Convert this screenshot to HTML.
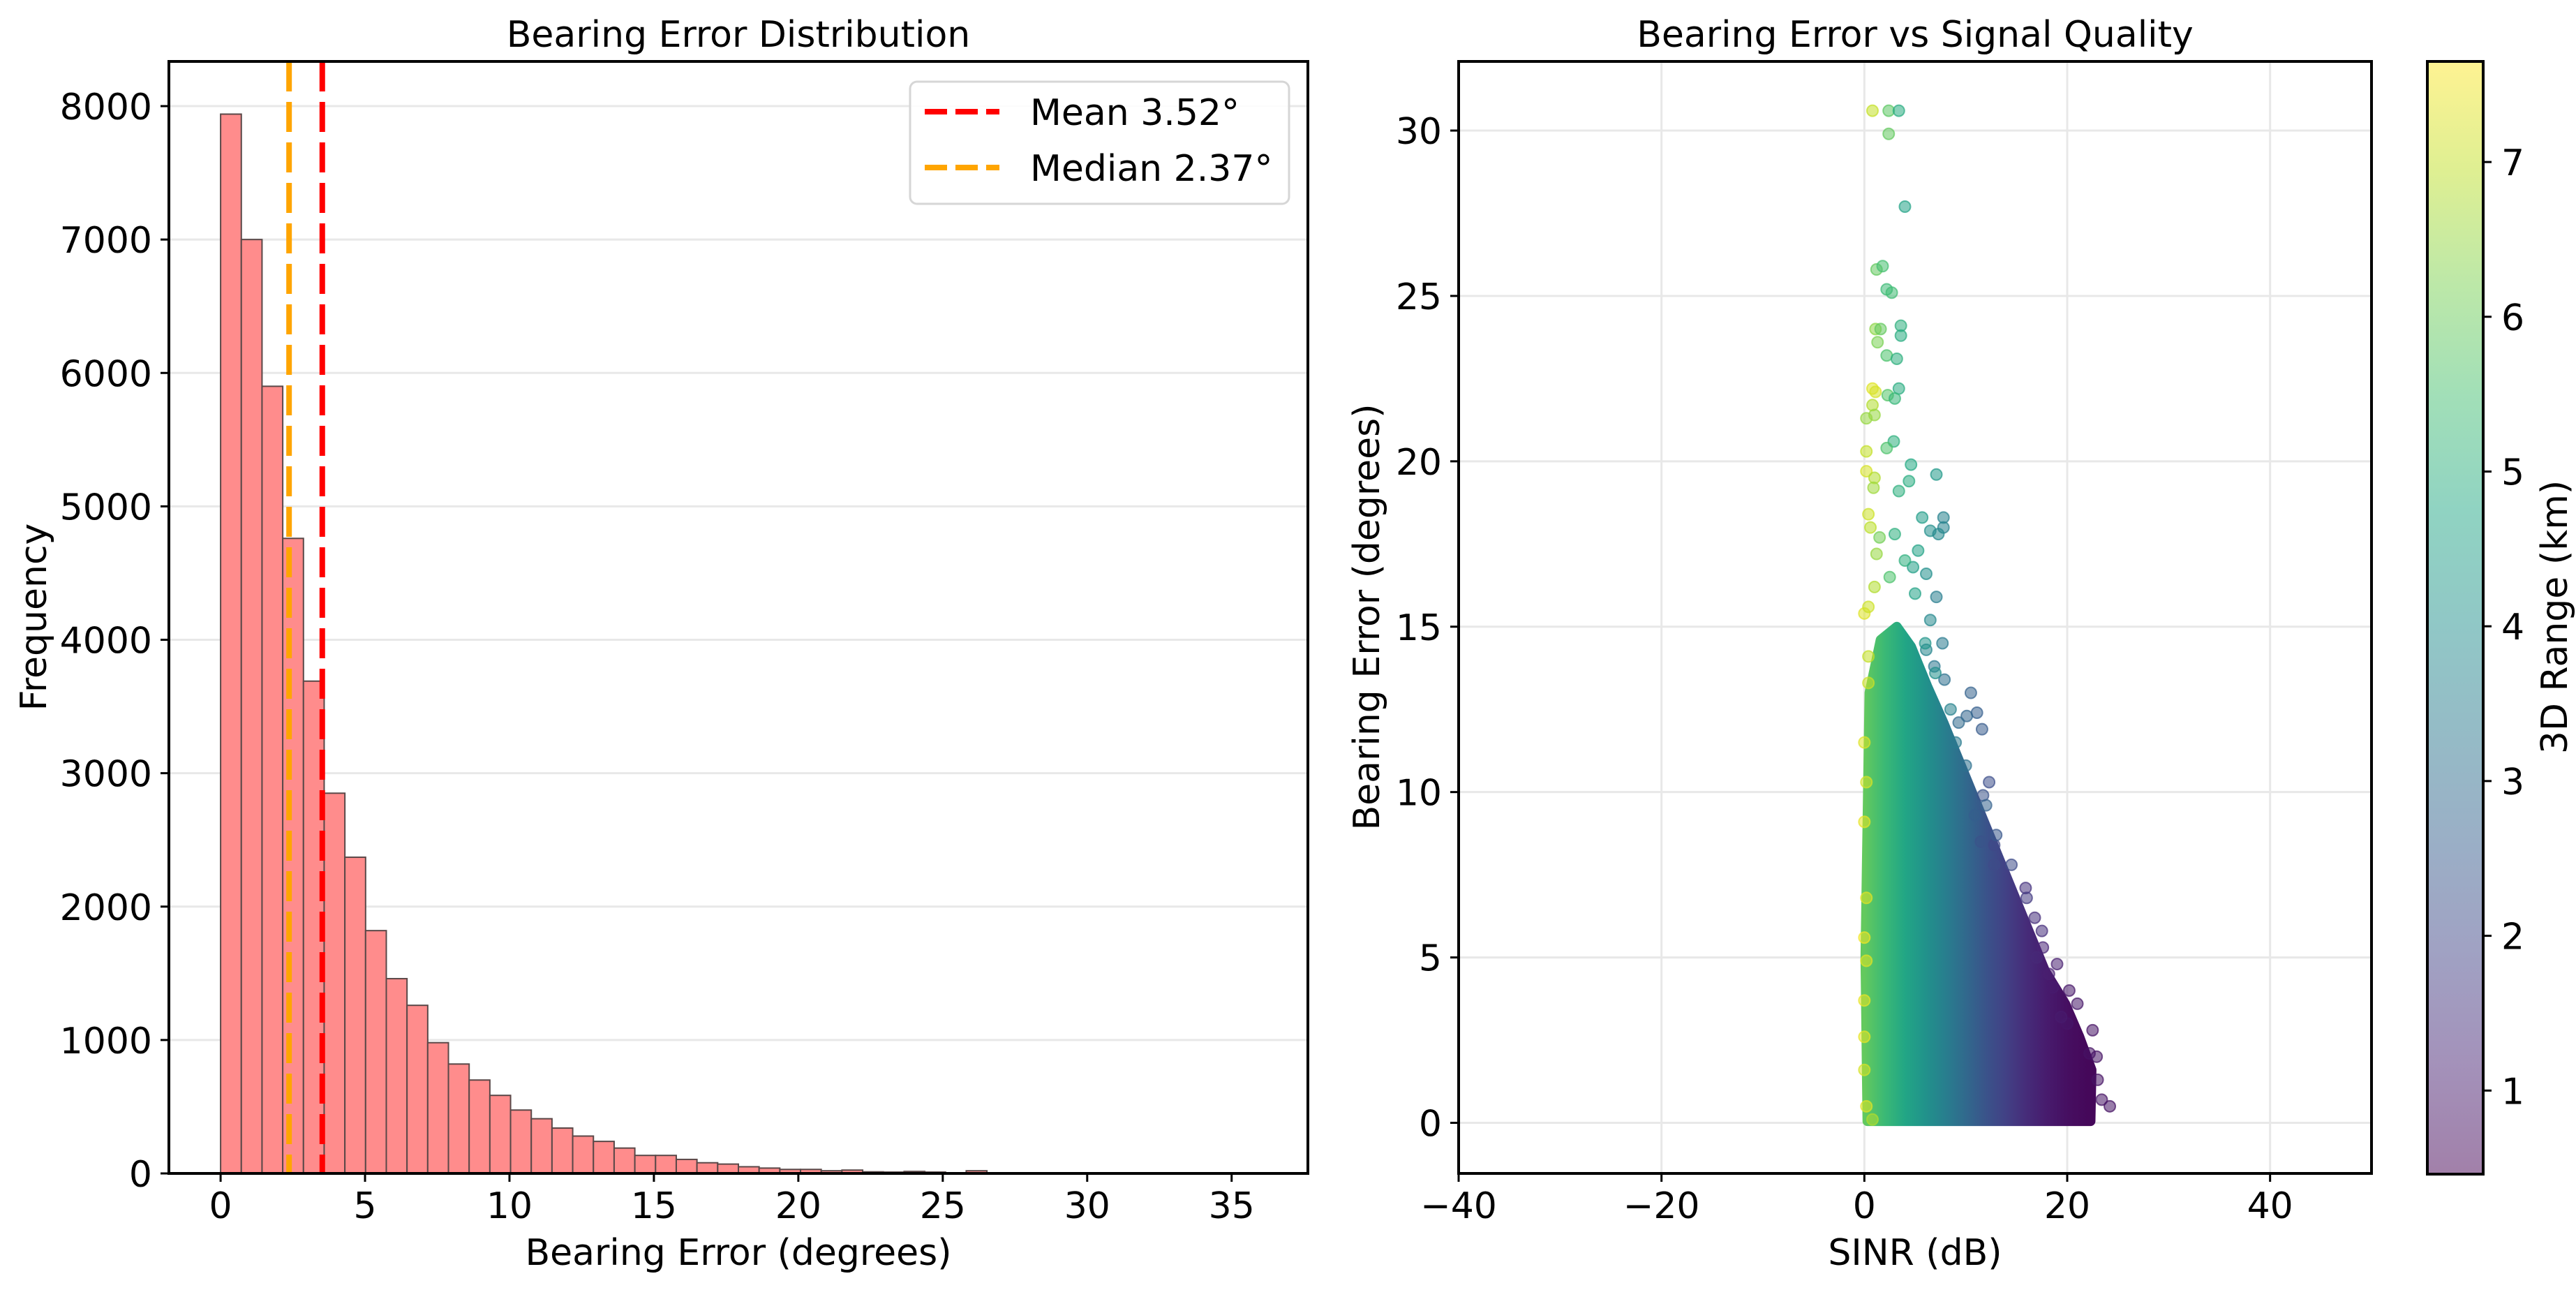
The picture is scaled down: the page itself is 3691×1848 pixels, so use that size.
<!DOCTYPE html>
<html><head><meta charset="utf-8">
<style>
html,body{margin:0;padding:0;background:#fff;}
svg{display:block;font-family:"DejaVu Sans","Liberation Sans",sans-serif;}
</style></head>
<body>
<svg id="fig" width="3691" height="1848" viewBox="0 0 3691 1848" xmlns="http://www.w3.org/2000/svg">
<rect width="3691" height="1848" fill="#fff"/>
<defs>
<linearGradient id="cbgrad" x1="0" y1="1" x2="0" y2="0"></linearGradient>
<linearGradient id="densegrad" gradientUnits="userSpaceOnUse" x1="0" y1="0" x2="1" y2="0"></linearGradient>
<clipPath id="clipR"><rect x="2090" y="88" width="1308" height="1593"/></clipPath>
</defs>
<g id="left"></g>
<g id="right"></g>
<g id="cbar"></g>
</svg>
<script>
// ---------- Histogram data ----------
const histBinStart = 0;
const histBinWidth = 0.717;
const histCounts = [7940,7000,5900,4760,3690,2850,2370,1820,1460,1260,980,820,700,585,475,410,340,280,240,190,135,135,105,80,70,50,40,30,30,20,25,12,10,15,10,5,20,3,2,2,1,1,1,0,0,0,0,1,0,1];
const histXTicks = [0,5,10,15,20,25,30,35];
const histYTicks = [0,1000,2000,3000,4000,5000,6000,7000,8000];
const meanValue = 3.52;
const medianValue = 2.37;

// ---------- Scatter data ----------
const sinrTicks = [-40,-20,0,20,40];
const errTicks = [0,5,10,15,20,25,30];
const cbTicks = [1,2,3,4,5,6,7];
// dense cloud envelope (sinr, error)
const envSinr = [0.3,22.3,22.4,21.2,19.8,17.8,15.8,13.8,11.8,9.8,7.8,6.2,4.6,3.2,1.6,0.5,0.1];
const envErr  = [0.05,0.05,1.6,2.6,3.6,4.6,6.1,7.6,9.1,10.6,12.1,13.2,14.4,15.0,14.6,13.0,5.0];
// range (colour) across the dense cloud by SINR
const denseSinr = [0,2,4,6,8,10,12,14,16,18,20,22];
const denseRange = [5.9,5.3,4.7,4.1,3.5,2.9,2.3,1.8,1.35,1.0,0.75,0.6];
// individual points
const ptSinr = [0.8,2.4,3.4,2.4,4.0,1.2,1.8,2.2,2.7,1.1,1.6,3.6,3.6,1.3,2.2,3.2,0.8,1.1,3.4,2.3,3.0,0.8,0.2,1.0,2.9,0.2,2.2,4.6,7.1,0.2,1.0,4.4,3.4,0.9,5.7,7.8,7.8,0.4,0.6,6.5,7.3,1.5,3.0,5.3,1.2,4.8,6.1,7.1,0.0,0.4,6.5,7.7,6.1,6.9,7.9,0.4,0.4,10.5,11.1,11.6,10.1,9.3,12.3,11.7,10.9,11.5,12.8,12.8,15.9,16.8,17.6,17.0,18.6,20.2,18.2,22.2,22.9,23.0,23.4,24.2,20.0,19.4,0.0,0.2,0.0,0.0,0.2,0.0,0.2,0.8,0.0,0.0,0.2,8.5,9.0,10.0,12.0,13.0,14.5,16.0,17.5,19.0,21.0,22.5,6.0,5.0,4.0,2.5,1.0,7.0];
const ptErr  = [30.6,30.6,30.6,29.9,27.7,25.8,25.9,25.2,25.1,24.0,24.0,24.1,23.8,23.6,23.2,23.1,22.2,22.1,22.2,22.0,21.9,21.7,21.3,21.4,20.6,20.3,20.4,19.9,19.6,19.7,19.5,19.4,19.1,19.2,18.3,18.3,18.0,18.4,18.0,17.9,17.8,17.7,17.8,17.3,17.2,16.8,16.6,15.9,15.4,15.6,15.2,14.5,14.3,13.8,13.4,14.1,13.3,13.0,12.4,11.9,12.3,12.1,10.3,9.9,9.3,8.5,8.4,7.8,7.1,6.2,5.3,5.0,4.1,4.0,4.5,2.1,2.0,1.3,0.7,0.5,3.0,3.2,11.5,10.3,9.1,5.6,4.9,2.6,0.5,0.1,1.6,3.7,6.8,12.5,11.5,10.8,9.6,8.7,7.8,6.8,5.8,4.8,3.6,2.8,14.5,16.0,17.0,16.5,16.2,13.6];
const ptRange = [7.0,5.8,4.9,5.9,4.6,5.9,5.5,5.3,5.4,6.4,5.9,5.0,4.9,6.2,5.6,5.0,7.3,7.2,4.9,5.7,5.2,6.8,6.5,6.5,5.0,7.0,5.6,4.8,4.3,7.2,6.8,4.9,5.0,6.6,4.4,3.6,3.6,7.1,6.9,4.0,3.8,6.1,5.0,4.6,6.5,4.5,4.0,3.5,7.3,7.1,3.8,3.4,3.7,3.3,3.1,7.0,7.1,2.7,2.6,2.5,2.8,2.9,2.2,2.3,2.6,2.3,2.0,2.1,1.5,1.4,1.2,1.3,1.0,0.9,1.1,0.8,0.8,0.8,0.8,0.8,0.9,1.0,7.3,7.2,7.4,7.5,7.3,7.4,7.3,6.8,7.2,7.4,7.3,3.6,3.4,3.1,2.7,2.4,2.1,1.7,1.4,1.1,0.9,0.8,4.2,4.6,5.0,5.6,6.8,4.0];

const NS='http://www.w3.org/2000/svg';
function mk(tag, attrs, parent){const e=document.createElementNS(NS,tag);for(const k in attrs)e.setAttribute(k,attrs[k]);parent.appendChild(e);return e;}
const viridis=['#440154','#482475','#414487','#355f8d','#2a788e','#21918c','#22a884','#44bf70','#7ad151','#bddf26','#fde725'];
function hex2rgb(h){return [parseInt(h.substr(1,2),16),parseInt(h.substr(3,2),16),parseInt(h.substr(5,2),16)];}
function vir(t){t=Math.max(0,Math.min(1,t));const s=t*10;const i=Math.min(9,Math.floor(s));const f=s-i;const a=hex2rgb(viridis[i]),b=hex2rgb(viridis[i+1]);return 'rgb('+a.map((v,k)=>Math.round(v+(b[k]-v)*f)).join(',')+')';}
const cbMin=0.46, cbMax=7.65;
function rangeT(r){return (r-cbMin)/(cbMax-cbMin);}

// ---------- Left axes ----------
const L={x0:242,x1:1874,y0:88,y1:1681,xmin:-1.79,xmax:37.64,ymin:0,ymax:8335};
const lx=v=>L.x0+(v-L.xmin)/(L.xmax-L.xmin)*(L.x1-L.x0);
const ly=v=>L.y1-(v-L.ymin)/(L.ymax-L.ymin)*(L.y1-L.y0);
const gl=document.getElementById('left');
histYTicks.forEach(t=>{
  const g=mk('line',{x1:L.x0,x2:L.x1,y1:ly(t),y2:ly(t),stroke:'#e8e8e8','stroke-width':3},gl);
  
  
});
histCounts.forEach((c,i)=>{
  if(c<=0)return;
  const xa=lx(histBinStart+i*histBinWidth), xb=lx(histBinStart+(i+1)*histBinWidth);
  const r=mk('rect',{x:xa,y:ly(c),width:xb-xa,height:ly(0)-ly(c),fill:'#ff8c8c',stroke:'#5a4848','stroke-width':2},gl);
  
  
});
const mline=mk('line',{x1:lx(medianValue),x2:lx(medianValue),y1:L.y0,y2:L.y1,stroke:'#ffa500','stroke-width':8,'stroke-dasharray':'43 15'},gl);


const meline=mk('line',{x1:lx(meanValue),x2:lx(meanValue),y1:L.y0,y2:L.y1,stroke:'#ff0000','stroke-width':8,'stroke-dasharray':'43 15'},gl);


const lsp=mk('rect',{x:L.x0,y:L.y0,width:L.x1-L.x0,height:L.y1-L.y0,fill:'none',stroke:'#000','stroke-width':4},gl);


histXTicks.forEach(t=>{
  mk('line',{x1:lx(t),x2:lx(t),y1:L.y1,y2:L.y1+12,stroke:'#000','stroke-width':3},gl);
  const tx=mk('text',{x:lx(t),y:L.y1+64,'font-size':52,'text-anchor':'middle'},gl);
  tx.textContent=t;
  
  
});
histYTicks.forEach(t=>{
  mk('line',{x1:L.x0-12,x2:L.x0,y1:ly(t),y2:ly(t),stroke:'#000','stroke-width':3},gl);
  const tx=mk('text',{x:L.x0-24,y:ly(t)+19,'font-size':52,'text-anchor':'end'},gl);
  tx.textContent=t;
  
  
});
let t1=mk('text',{x:1058,y:67,'font-size':52,'text-anchor':'middle'},gl);t1.textContent='Bearing Error Distribution';

let t2=mk('text',{x:1058,y:1812,'font-size':52,'text-anchor':'middle'},gl);t2.textContent='Bearing Error (degrees)';

let t3=mk('text',{x:0,y:0,'font-size':52,'text-anchor':'middle',transform:'translate(66,884) rotate(-90)'},gl);t3.textContent='Frequency';

// legend
const lg=mk('g',{},gl);


mk('rect',{x:1304,y:117,width:543,height:175,rx:10,fill:'#fff','fill-opacity':0.85,stroke:'#d6d6d6','stroke-width':3},lg);
mk('line',{x1:1325,x2:1432,y1:160,y2:160,stroke:'#ff0000','stroke-width':8,'stroke-dasharray':'32 12'},lg);
mk('line',{x1:1325,x2:1432,y1:240,y2:240,stroke:'#ffa500','stroke-width':8,'stroke-dasharray':'32 12'},lg);
let le1=mk('text',{x:1476,y:179,'font-size':52},lg);le1.textContent='Mean 3.52°';

let le2=mk('text',{x:1476,y:259,'font-size':52},lg);le2.textContent='Median 2.37°';


// ---------- Right axes ----------
const R={x0:2090,x1:3398,y0:88,y1:1681,xmin:-40,xmax:50,ymin:-1.53,ymax:32.09};
const rx=v=>R.x0+(v-R.xmin)/(R.xmax-R.xmin)*(R.x1-R.x0);
const ry=v=>R.y1-(v-R.ymin)/(R.ymax-R.ymin)*(R.y1-R.y0);
const gr=document.getElementById('right');
errTicks.forEach(t=>{const g=mk('line',{x1:R.x0,x2:R.x1,y1:ry(t),y2:ry(t),stroke:'#e8e8e8','stroke-width':3},gr);
  });
sinrTicks.forEach(t=>{const g=mk('line',{x1:rx(t),x2:rx(t),y1:R.y0,y2:R.y1,stroke:'#e8e8e8','stroke-width':3},gr);
  });
// dense gradient
const dg=document.getElementById('densegrad');
dg.setAttribute('x1',rx(denseSinr[0]));dg.setAttribute('x2',rx(denseSinr[denseSinr.length-1]));
denseSinr.forEach((s,i)=>{mk('stop',{offset:(s-denseSinr[0])/(denseSinr[denseSinr.length-1]-denseSinr[0]),'stop-color':vir(rangeT(denseRange[i]))},dg);});
const pts=envSinr.map((s,i)=>rx(s)+','+ry(envErr[i])).join(' ');
const cloud=mk('polygon',{points:pts,fill:'url(#densegrad)',stroke:'url(#densegrad)','stroke-width':14,'stroke-linejoin':'round'},gr);


const sg=mk('g',{'clip-path':'url(#clipR)'},gr);
ptSinr.forEach((s,i)=>{
  const c=vir(rangeT(ptRange[i]));
  const p=mk('circle',{cx:rx(s),cy:ry(ptErr[i]),r:8,fill:c,'fill-opacity':0.55,stroke:c,'stroke-opacity':0.7,'stroke-width':2},sg);
  
  
});
const rsp=mk('rect',{x:R.x0,y:R.y0,width:R.x1-R.x0,height:R.y1-R.y0,fill:'none',stroke:'#000','stroke-width':4},gr);

sinrTicks.forEach(t=>{
  mk('line',{x1:rx(t),x2:rx(t),y1:R.y1,y2:R.y1+12,stroke:'#000','stroke-width':3},gr);
  const tx=mk('text',{x:rx(t),y:R.y1+64,'font-size':52,'text-anchor':'middle'},gr);
  tx.textContent=(t<0?'\u2212'+(-t):t);
  
});
errTicks.forEach(t=>{
  mk('line',{x1:R.x0-12,x2:R.x0,y1:ry(t),y2:ry(t),stroke:'#000','stroke-width':3},gr);
  const tx=mk('text',{x:R.x0-24,y:ry(t)+19,'font-size':52,'text-anchor':'end'},gr);
  tx.textContent=t;
  
});
let r1=mk('text',{x:2744,y:67,'font-size':52,'text-anchor':'middle'},gr);r1.textContent='Bearing Error vs Signal Quality';

let r2=mk('text',{x:2744,y:1812,'font-size':52,'text-anchor':'middle'},gr);r2.textContent='SINR (dB)';

let r3=mk('text',{x:0,y:0,'font-size':52,'text-anchor':'middle',transform:'translate(1976,884) rotate(-90)'},gr);r3.textContent='Bearing Error (degrees)';


// ---------- Colorbar ----------
const C={x0:3478,x1:3558,y0:88,y1:1682};
const cy=v=>C.y1-(v-cbMin)/(cbMax-cbMin)*(C.y1-C.y0);
const cg=document.getElementById('cbgrad');
for(let k=0;k<=10;k++){mk('stop',{offset:k/10,'stop-color':viridis[k],'stop-opacity':0.5},cg);}
const gc=document.getElementById('cbar');
mk('rect',{x:C.x0,y:C.y0,width:C.x1-C.x0,height:C.y1-C.y0,fill:'#fff'},gc);
const cbr=mk('rect',{x:C.x0,y:C.y0,width:C.x1-C.x0,height:C.y1-C.y0,fill:'url(#cbgrad)',stroke:'#000','stroke-width':4},gc);

cbTicks.forEach(t=>{
  mk('line',{x1:C.x1,x2:C.x1+12,y1:cy(t),y2:cy(t),stroke:'#000','stroke-width':3},gc);
  const tx=mk('text',{x:C.x1+26,y:cy(t)+19,'font-size':52},gc);
  tx.textContent=t;
  
});
let c1=mk('text',{x:0,y:0,'font-size':52,'text-anchor':'middle',transform:'translate(3678,884) rotate(-90)'},gc);c1.textContent='3D Range (km)';

</script>
</body></html>
